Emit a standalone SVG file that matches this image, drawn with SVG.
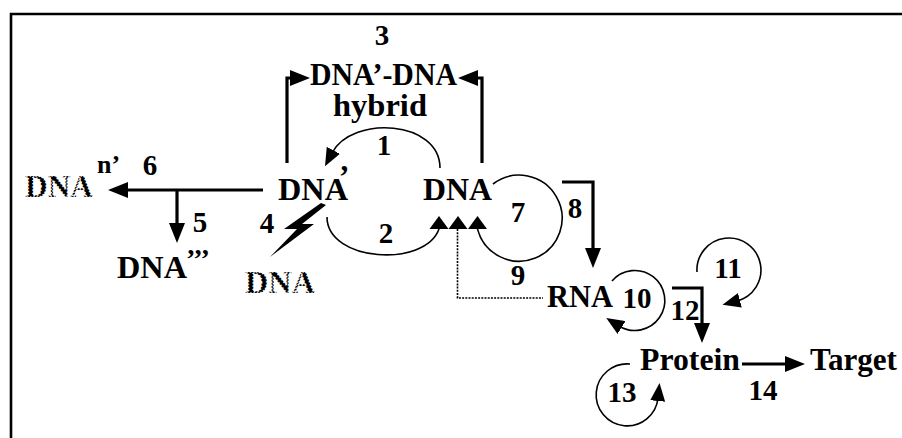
<svg xmlns="http://www.w3.org/2000/svg" width="902" height="438" viewBox="0 0 902 438">
<style>
text { font-family: "Liberation Serif", "Times New Roman", serif; font-weight: bold; fill: #000; }
.lbl { font-size: 31px; }
.num { font-size: 29px; text-anchor: middle; }
.grunge { stroke: #fff; stroke-width: 1.5; stroke-dasharray: 1.2 2; }
.thick { fill: none; stroke: #000; stroke-width: 3.2; }
.thin { fill: none; stroke: #000; stroke-width: 1.6; }
.dot { fill: none; stroke: #000; stroke-width: 1.6; stroke-dasharray: 2 1.2; }
</style>
<defs>
<marker id="ah" viewBox="0 0 20 16" refX="4" refY="8" markerWidth="20" markerHeight="16" markerUnits="userSpaceOnUse" orient="auto"><path d="M0,0 L20,8 L0,16 z"/></marker>
<marker id="ahs" viewBox="0 0 18 15" refX="3" refY="7.5" markerWidth="18" markerHeight="15" markerUnits="userSpaceOnUse" orient="auto"><path d="M0,0 L18,7.5 L0,15 z"/></marker>
<path id="tri" d="M-9.5,13 L0,0 L9.5,13 z"/>
</defs>
<rect width="902" height="438" fill="#fff"/>
<path d="M11,438 V14 H902" fill="none" stroke="#000" stroke-width="2.6"/>

<g id="connectors">
<path class="thick" d="M287,163 V78 H294" marker-end="url(#ah)"/>
<path class="thick" d="M482,163 V78 H474" marker-end="url(#ah)"/>
<path class="thick" d="M263,190 H124" marker-end="url(#ah)"/>
<path class="thick" d="M177,190 V227" marker-end="url(#ah)"/>
<path class="thick" d="M562,182 H593 V252" marker-end="url(#ah)"/>
<path class="thick" d="M672,288 H702 V327" marker-end="url(#ah)"/>
<path class="thick" d="M742,364 H789" marker-end="url(#ah)"/>
<path class="thin" d="M440,168 C440,120 352,115 332,153" marker-end="url(#ahs)"/>
<path class="thin" d="M327,217 C327,262 425,268 439,229"/>
<path class="thin" d="M493,184 A43,43 0 1 1 477.5,229"/>
<path class="dot" d="M457.5,229 V298 H543"/>
<use href="#tri" x="439" y="216"/>
<use href="#tri" x="458" y="216"/>
<use href="#tri" x="477.5" y="216"/>
<path class="thin" d="M612,281 A30,30 0 1 1 619,326" marker-end="url(#ahs)"/>
<path class="thin" d="M697,272 A32,32 0 1 1 737,301" marker-end="url(#ahs)"/>
<path class="thin" d="M630,364 A31,31 0 1 0 658,398" marker-end="url(#ahs)"/>
<polygon points="321,203 284,229 297,229 270,257 314,224 302,224 326,205" fill="#000"/>
</g>

<g id="labels">
<text class="num" x="382" y="45">3</text>
<text class="num" x="384" y="155">1</text>
<text class="num" x="386" y="243">2</text>
<text class="num" x="267" y="233">4</text>
<text class="num" x="200" y="232">5</text>
<text class="num" x="150" y="175">6</text>
<text class="num" x="518" y="222">7</text>
<text class="num" x="575" y="218">8</text>
<text class="num" x="518" y="285">9</text>
<text class="num" x="637" y="308">10</text>
<text class="num" x="728" y="278">11</text>
<text class="num" x="685" y="320">12</text>
<text class="num" x="622" y="402">13</text>
<text class="num" x="763" y="400">14</text>
</g>

<g id="node-hybrid">
<text class="lbl" x="310" y="85" textLength="147" lengthAdjust="spacingAndGlyphs">DNA’-DNA</text>
<text class="lbl" x="333" y="116" textLength="94" lengthAdjust="spacingAndGlyphs">hybrid</text>
</g>
<g id="node-dna-prime">
<text class="lbl" x="278" y="200"><tspan textLength="70" lengthAdjust="spacingAndGlyphs">DNA</tspan><tspan x="339" y="187">’</tspan></text>
</g>
<g id="node-dna">
<text class="lbl" x="423" y="200" textLength="69" lengthAdjust="spacingAndGlyphs">DNA</text>
</g>
<g id="node-dna-n">
<text class="lbl" x="25" y="197"><tspan class="grunge" textLength="68" lengthAdjust="spacingAndGlyphs">DNA</tspan><tspan x="97" y="173" font-size="26">n’</tspan></text>
</g>
<g id="node-dna-triple">
<text class="lbl" x="117" y="278"><tspan textLength="70" lengthAdjust="spacingAndGlyphs">DNA</tspan><tspan x="186" y="268" font-size="28">’’’</tspan></text>
</g>
<g id="node-dna-damaged">
<text class="lbl grunge" x="245" y="293" textLength="70" lengthAdjust="spacingAndGlyphs">DNA</text>
</g>
<g id="node-rna">
<text class="lbl" x="547" y="307" textLength="66" lengthAdjust="spacingAndGlyphs">RNA</text>
</g>
<g id="node-protein">
<text class="lbl" x="640" y="370" textLength="100" lengthAdjust="spacingAndGlyphs">Protein</text>
</g>
<g id="node-target">
<text class="lbl" x="810" y="370" textLength="87" lengthAdjust="spacingAndGlyphs">Target</text>
</g>
</svg>
